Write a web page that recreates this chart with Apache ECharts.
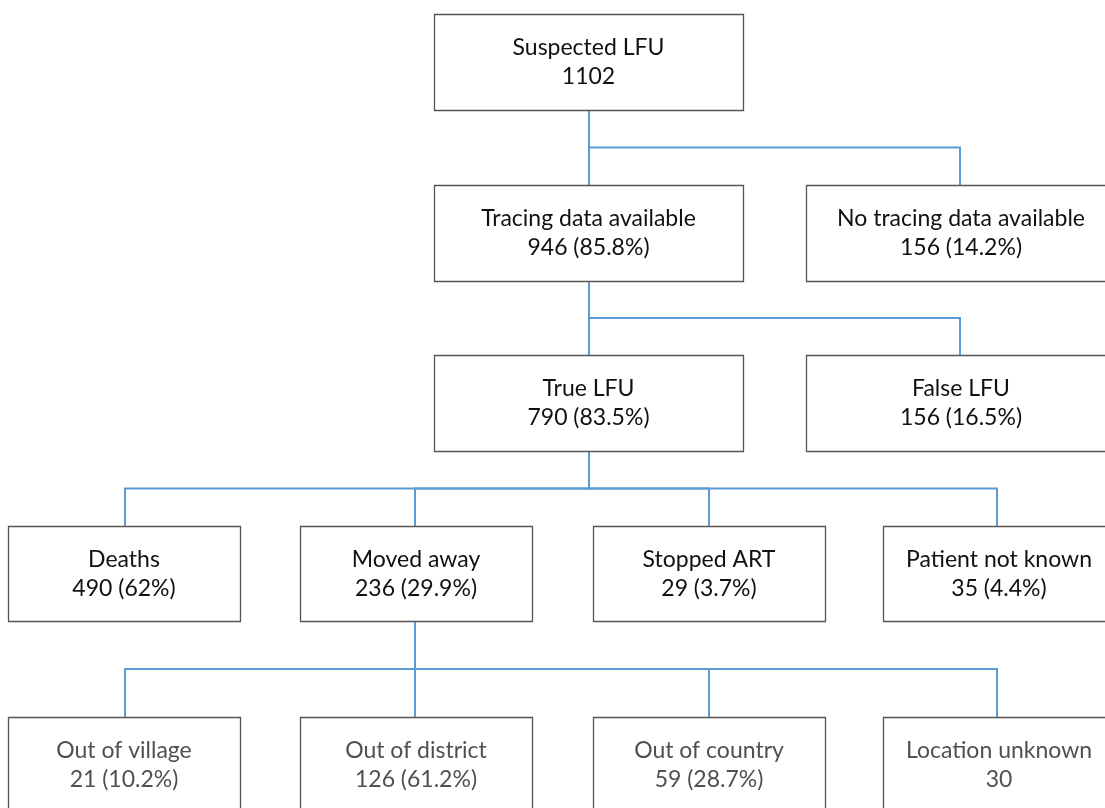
<!DOCTYPE html>
<html>
<head>
<meta charset="UTF-8">
<title>LFU tracing flowchart</title>
<script src="https://cdn.jsdelivr.net/npm/echarts/dist/echarts.min.js"></script>
<style type="text/css">
  * {margin: 0; padding: 0;}
  body {background: #fff;}
</style>
</head>
<body>
<div id="chart" style="width:1105px;height:808px"></div>
<script type="text/javascript">
// node data
var nodeNames = ['Suspected LFU', 'Tracing data available', 'No tracing data available',
  'True LFU', 'False LFU', 'Deaths', 'Moved away', 'Stopped ART', 'Patient not known',
  'Out of village', 'Out of district', 'Out of country', 'Location unknown'];
var nodeCounts = [1102, 946, 156, 790, 156, 490, 236, 29, 35, 21, 126, 59, 30];
var nodePercents = [null, '85.8%', '14.2%', '83.5%', '16.5%', '62%', '29.9%', '3.7%', '4.4%',
  '10.2%', '61.2%', '28.7%', null];
var nodeParents = [-1, 0, 0, 1, 1, 3, 3, 3, 3, 6, 6, 6, 6];

// layout (diagram units = pixels of the 1105x808 canvas)
var rowTop = [14, 185, 355, 526, 717];
var rowHeight = [96, 96, 96, 95, 95];
var nodeRow = [0, 1, 1, 2, 2, 3, 3, 3, 3, 4, 4, 4, 4];
var nodeLeft = [434, 434, 806, 434, 806, 8, 300, 593, 883, 8, 300, 593, 883];
var nodeWidth = [309, 309, 310, 309, 310, 232, 232, 232, 232, 232, 232, 232, 232];
var linkX = [589, 589, 960, 589, 960, 125, 415, 709, 997, 125, 415, 709, 997];

function nodeLabel(i) {
  return nodePercents[i] ? nodeCounts[i] + ' (' + nodePercents[i] + ')' : String(nodeCounts[i]);
}

var chart = echarts.init(document.getElementById('chart'));

var option = {
  animation: false,
  grid: {left: 0, right: 0, top: 0, bottom: 0},
  xAxis: {type: 'value', min: 0, max: 1105, show: false},
  yAxis: {type: 'value', min: 0, max: 808, inverse: true, show: false},
  series: [
    {
      // connectors
      type: 'custom',
      clip: false,
      silent: true,
      data: nodeParents.map(function (p, i) { return [i, p]; }).filter(function (d) { return d[1] >= 0; }),
      renderItem: function (params, api) {
        var c = api.value(0), p = api.value(1);
        var pBottom = rowTop[nodeRow[p]] + rowHeight[nodeRow[p]];
        var cTop = rowTop[nodeRow[c]];
        var midY = (pBottom + cTop) / 2;
        var pts = [[linkX[p], pBottom], [linkX[p], midY], [linkX[c], midY], [linkX[c], cTop]]
          .map(function (pt) { return api.coord(pt); });
        return {
          type: 'polyline',
          shape: {points: pts},
          style: {stroke: '#5b9bd5', lineWidth: 2, fill: null}
        };
      }
    },
    {
      // boxes
      type: 'custom',
      clip: false,
      silent: true,
      data: nodeNames.map(function (n, i) { return [i]; }),
      renderItem: function (params, api) {
        var i = api.value(0);
        var r = nodeRow[i];
        var tl = api.coord([nodeLeft[i], rowTop[r]]);
        var sz = api.size([nodeWidth[i], rowHeight[r]]);
        var cx = tl[0] + sz[0] / 2;
        var cy = tl[1] + sz[1] / 2;
        var color = r === 4 ? '#505050' : '#111111';
        return {
          type: 'group',
          children: [
            {
              type: 'rect',
              shape: {x: tl[0] + 0.5, y: tl[1] + 0.5, width: sz[0], height: sz[1]},
              style: {fill: '#fff', stroke: '#555555', lineWidth: 1.3}
            },
            {
              type: 'text',
              style: {
                text: nodeNames[i], x: cx, y: cy - 14,
                align: 'center', verticalAlign: 'middle',
                fontFamily: 'Lato', fontSize: 23, fill: color
              }
            },
            {
              type: 'text',
              style: {
                text: nodeLabel(i), x: cx, y: cy + 15,
                align: 'center', verticalAlign: 'middle',
                fontFamily: 'Lato', fontSize: 23, fill: color
              }
            }
          ]
        };
      }
    }
  ]
};

chart.setOption(option);
</script>
</body>
</html>
